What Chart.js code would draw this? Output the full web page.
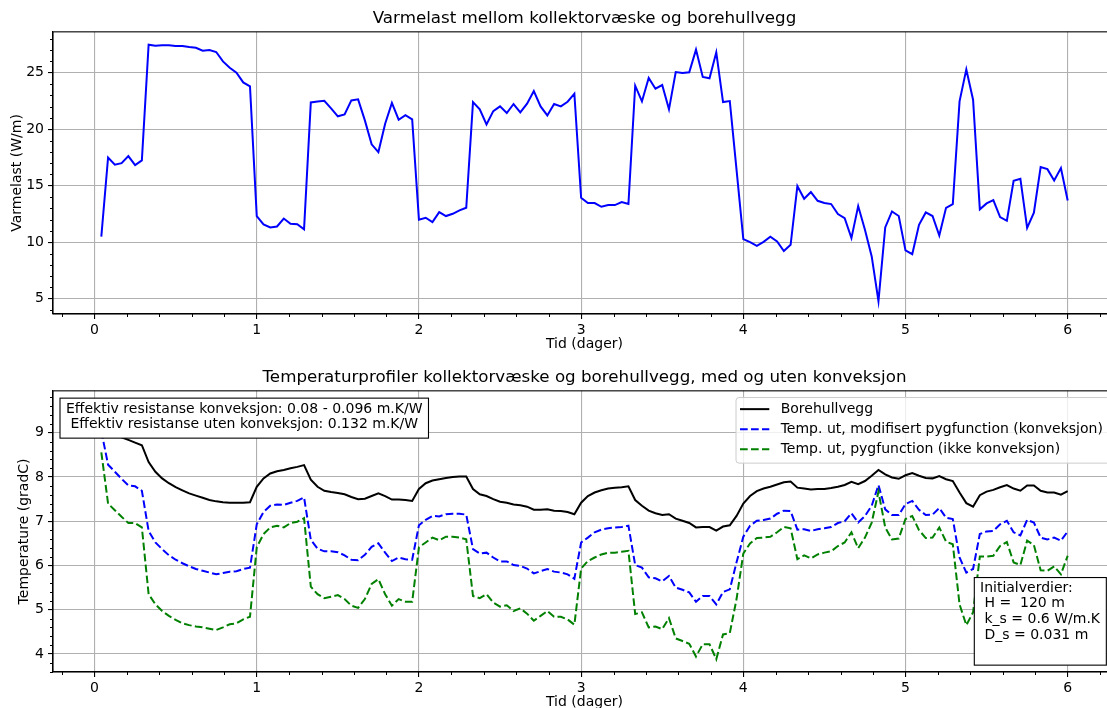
<!DOCTYPE html>
<html>
<head>
<meta charset="utf-8">
<script src="https://cdn.jsdelivr.net/npm/chart.js@4.4.1/dist/chart.umd.min.js"></script>
<style>
  html, body { margin: 0; padding: 0; background: #fff; overflow: hidden; }
  canvas { position: absolute; left: 0; }
  #lastChart { top: 0; }
  #tempChart { top: 353px; }
</style>
</head>
<body>
<canvas id="lastChart" width="1120" height="353" style="width:1120px;height:353px"></canvas>
<canvas id="tempChart" width="1120" height="358" style="width:1120px;height:358px"></canvas>
<script>
// Hourly values, hour 1 .. 144 (6 days)
const varmelast = [
  10.5, 17.5, 16.86, 17.0, 17.62, 16.83, 17.24, 27.48, 27.39, 27.42, 27.42, 27.36,
  27.36, 27.27, 27.21, 26.95, 27.0, 26.83, 26.0, 25.44, 25.0, 24.14, 23.79, 12.32,
  11.58, 11.31, 11.4, 12.1, 11.64, 11.6, 11.14, 22.37, 22.46, 22.52, 21.84, 21.14,
  21.31, 22.55, 22.64, 20.78, 18.66, 17.98, 20.49, 22.32, 20.84, 21.25, 20.87, 12.0,
  12.17, 11.78, 12.67, 12.32, 12.52, 12.82, 13.05, 22.4, 21.76, 20.43, 21.6, 22.02,
  21.43, 22.23, 21.49, 22.26, 23.38, 22.02, 21.22, 22.23, 22.02, 22.43, 23.14, 13.94,
  13.47, 13.47, 13.14, 13.29, 13.29, 13.55, 13.38, 23.85, 22.46, 24.53, 23.58, 23.91,
  21.76, 25.06, 24.97, 25.03, 27.04, 24.62, 24.5, 26.8, 22.4, 22.49, 16.4, 10.28,
  10.01, 9.69, 10.04, 10.49, 10.07, 9.22, 9.78, 14.97, 13.85, 14.44, 13.67, 13.47,
  13.38, 12.49, 12.14, 10.37, 13.2, 11.1, 8.75, 4.79, 11.31, 12.73, 12.32, 9.28,
  8.95, 11.55, 12.64, 12.32, 10.6, 13.05, 13.38, 22.46, 25.29, 22.61, 12.91, 13.44,
  13.73, 12.23, 11.9, 15.44, 15.62, 11.28, 12.61, 16.65, 16.47, 15.47, 16.56, 13.7
];

const borehullvegg = [
  9.66, 9.2, 9.02, 8.9, 8.84, 8.78, 8.72, 8.34, 8.12, 7.97, 7.86, 7.77,
  7.7, 7.63, 7.58, 7.53, 7.48, 7.45, 7.43, 7.42, 7.42, 7.42, 7.43, 7.78,
  7.97, 8.08, 8.13, 8.16, 8.2, 8.23, 8.27, 7.94, 7.78, 7.69, 7.66, 7.64,
  7.61, 7.55, 7.5, 7.51, 7.57, 7.63, 7.57, 7.49, 7.49, 7.48, 7.46, 7.73,
  7.86, 7.92, 7.95, 7.98, 8.0, 8.01, 8.01, 7.73, 7.61, 7.57, 7.5, 7.44,
  7.42, 7.38, 7.36, 7.33, 7.26, 7.26, 7.27, 7.24, 7.23, 7.21, 7.16, 7.42,
  7.57, 7.65, 7.7, 7.74, 7.76, 7.77, 7.79, 7.48, 7.35, 7.24, 7.18, 7.14,
  7.16, 7.06, 7.01, 6.96, 6.86, 6.87, 6.87, 6.79, 6.88, 6.91, 7.12, 7.4,
  7.57, 7.68, 7.74, 7.78, 7.83, 7.88, 7.9, 7.76, 7.74, 7.72, 7.73, 7.73,
  7.75, 7.78, 7.82, 7.89, 7.84, 7.91, 8.03, 8.16, 8.06, 7.99, 7.96, 8.04,
  8.09, 8.03, 7.98, 7.97, 8.02, 7.95, 7.91, 7.65, 7.41, 7.33, 7.59, 7.67,
  7.71, 7.77, 7.82, 7.74, 7.69, 7.81, 7.81, 7.69, 7.65, 7.65, 7.6, 7.68
];

const tempKonveksjon = [
  9.04, 8.28, 8.12, 7.96, 7.81, 7.79, 7.69, 6.78, 6.52, 6.37, 6.23, 6.13,
  6.05, 5.98, 5.92, 5.88, 5.84, 5.8, 5.83, 5.86, 5.87, 5.92, 5.95, 6.93,
  7.21, 7.35, 7.38, 7.37, 7.42, 7.46, 7.54, 6.58, 6.38, 6.32, 6.32, 6.3,
  6.23, 6.13, 6.12, 6.24, 6.42, 6.5, 6.29, 6.1, 6.18, 6.14, 6.13, 6.91,
  7.03, 7.12, 7.11, 7.16, 7.17, 7.17, 7.15, 6.37, 6.27, 6.29, 6.18, 6.09,
  6.09, 6.01, 5.99, 5.93, 5.82, 5.87, 5.92, 5.86, 5.84, 5.8, 5.7, 6.52,
  6.63, 6.75, 6.81, 6.84, 6.86, 6.87, 6.9, 6.01, 5.95, 5.73, 5.71, 5.64,
  5.76, 5.5, 5.45, 5.39, 5.18, 5.31, 5.31, 5.12, 5.4, 5.46, 6.07, 6.65,
  6.9, 7.01, 7.03, 7.06, 7.17, 7.24, 7.23, 6.81, 6.82, 6.78, 6.82, 6.84,
  6.87, 6.96, 7.0, 7.18, 6.97, 7.12, 7.35, 7.82, 7.27, 7.14, 7.14, 7.39,
  7.46, 7.26, 7.14, 7.15, 7.3, 7.08, 7.05, 6.18, 5.84, 5.92, 6.71, 6.77,
  6.78, 6.93, 7.01, 6.75, 6.68, 7.03, 6.97, 6.63, 6.59, 6.63, 6.56, 6.77
];

const tempUtenKonveksjon = [
  8.56, 7.4, 7.25, 7.1, 6.96, 6.96, 6.86, 5.35, 5.12, 4.97, 4.86, 4.77,
  4.69, 4.65, 4.62, 4.6, 4.57, 4.54, 4.6, 4.67, 4.69, 4.78, 4.84, 6.41,
  6.71, 6.86, 6.9, 6.86, 6.96, 6.99, 7.07, 5.52, 5.35, 5.26, 5.29, 5.33,
  5.24, 5.09, 5.04, 5.24, 5.58, 5.69, 5.35, 5.09, 5.24, 5.18, 5.18, 6.41,
  6.52, 6.63, 6.57, 6.65, 6.65, 6.63, 6.59, 5.31, 5.26, 5.35, 5.16, 5.07,
  5.1, 4.97, 5.03, 4.91, 4.75, 4.86, 4.97, 4.84, 4.84, 4.78, 4.66, 5.93,
  6.1, 6.18, 6.25, 6.29, 6.29, 6.31, 6.33, 4.9, 4.94, 4.6, 4.62, 4.56,
  4.81, 4.35, 4.29, 4.23, 3.94, 4.22, 4.22, 3.88, 4.44, 4.47, 5.24, 6.27,
  6.5, 6.62, 6.63, 6.65, 6.75, 6.87, 6.84, 6.14, 6.23, 6.16, 6.25, 6.29,
  6.32, 6.44, 6.52, 6.75, 6.39, 6.63, 6.97, 7.67, 6.86, 6.59, 6.61, 7.05,
  7.12, 6.8, 6.62, 6.63, 6.86, 6.54, 6.48, 5.12, 4.65, 4.94, 6.2, 6.2,
  6.22, 6.44, 6.53, 6.07, 6.01, 6.56, 6.46, 5.89, 5.88, 5.98, 5.8, 6.22
];

const dagTicks = [0, 1, 2, 3, 4, 5, 6];
const varmelastTicks = [5, 10, 15, 20, 25];
const tempTicks = [4, 5, 6, 7, 8, 9];

const resistanseTekst = [
  'Effektiv resistanse konveksjon: 0.08 - 0.096 m.K/W',
  ' Effektiv resistanse uten konveksjon: 0.132 m.K/W'
];
const initialTekst = [
  'Initialverdier:',
  ' H =  120 m',
  ' k_s = 0.6 W/m.K',
  ' D_s = 0.031 m'
];

const FONT = "'DejaVu Sans', sans-serif";
Chart.defaults.font.family = FONT;
Chart.defaults.font.size = 14;
Chart.defaults.color = '#000';

// time axis in days, one sample per hour
const tid = varmelast.map((_, i) => (i + 1) / 24);
const toPoints = arr => arr.map((v, i) => ({ x: tid[i], y: v }));

/* -------------------- SHARED PLUGINS -------------------- */

// minor tick marks plus the full axes frame
const frameAndMinorTicks = {
  id: 'frameAndMinorTicks',
  afterDraw(chart, args, opts) {
    const { ctx, chartArea: a, scales } = chart;
    ctx.save();
    ctx.strokeStyle = '#000';
    ctx.lineWidth = 1;
    ctx.beginPath();
    const xs = scales.x;
    for (let k = Math.ceil(xs.min / opts.xStep); k * opts.xStep <= xs.max; k++) {
      const v = k * opts.xStep;
      if (Math.abs(v - Math.round(v)) < 1e-6) continue;
      const px = Math.round(xs.getPixelForValue(v)) + 0.5;
      ctx.moveTo(px, a.bottom);
      ctx.lineTo(px, a.bottom + 3);
    }
    const ys = scales.y;
    for (let k = Math.ceil(ys.min / opts.yStep); k * opts.yStep <= ys.max; k++) {
      const v = k * opts.yStep;
      if (Math.abs(v / opts.yMajor - Math.round(v / opts.yMajor)) < 1e-6) continue;
      const py = Math.round(ys.getPixelForValue(v)) + 0.5;
      ctx.moveTo(a.left, py);
      ctx.lineTo(a.left - 3, py);
    }
    ctx.stroke();
    ctx.lineWidth = 1.1;
    ctx.strokeRect(a.left, a.top, a.width, a.height);
    ctx.restore();
  }
};

function baseScales(yMin, yMax, yTicks, yTitle, yTitlePad) {
  const grid = { color: '#b0b0b0', lineWidth: 1.1, tickColor: '#000', tickLength: 5, tickWidth: 1.1 };
  const border = { color: '#000', width: 1.1 };
  return {
    x: {
      type: 'linear',
      min: -0.25625,
      max: 6.29792,
      afterBuildTicks: s => { s.ticks = dagTicks.map(v => ({ value: v })); },
      afterFit: s => { s.height = 39; },
      ticks: { autoSkip: false, maxRotation: 0, padding: 3 },
      grid, border,
      title: { display: true, text: 'Tid (dager)', padding: { top: 0, bottom: 0 } }
    },
    y: {
      type: 'linear',
      min: yMin,
      max: yMax,
      afterBuildTicks: s => { s.ticks = yTicks.map(v => ({ value: v })); },
      afterFit: s => { s.width = 53; },
      ticks: { padding: 4 },
      grid, border,
      title: { display: true, text: yTitle, padding: { top: yTitlePad, bottom: 0 } }
    }
  };
}

function baseOptions(title, titleTop, scales, minor) {
  return {
    responsive: false,
    animation: false,
    devicePixelRatio: 1,
    layout: { padding: { left: 0, right: 4, top: 0, bottom: 0 } },
    scales,
    plugins: {
      legend: { display: false },
      tooltip: { enabled: false },
      title: {
        display: true,
        text: title,
        fullSize: false,
        color: '#000',
        font: { size: 16.7, weight: 'normal' },
        padding: { top: titleTop, bottom: 2.9 }
      },
      frameAndMinorTicks: minor
    }
  };
}

/* -------------------- HEAT LOAD -------------------- */

new Chart(document.getElementById('lastChart'), {
  type: 'line',
  data: {
    datasets: [{
      data: toPoints(varmelast),
      borderColor: '#0000ff',
      borderWidth: 2,
      pointRadius: 0,
      tension: 0
    }]
  },
  options: baseOptions(
    'Varmelast mellom kollektorvæske og borehullvegg', 8.9,
    baseScales(3.655, 28.614, varmelastTicks, 'Varmelast (W/m)', 8.6),
    { xStep: 0.2, yStep: 1, yMajor: 5 }
  ),
  plugins: [frameAndMinorTicks]
});

/* -------------------- TEMPERATURES -------------------- */

function boxedText(ctx, lines, x, y, w, h, textX, firstY, step) {
  ctx.fillStyle = '#fff';
  ctx.fillRect(x, y, w, h);
  ctx.strokeStyle = '#000';
  ctx.lineWidth = 1.1;
  ctx.strokeRect(x, y, w, h);
  ctx.fillStyle = '#000';
  lines.forEach((line, i) => ctx.fillText(line, textX, firstY + i * step));
}

const annotations = {
  id: 'annotations',
  afterDraw(chart) {
    const { ctx, chartArea: a } = chart;
    ctx.save();
    ctx.font = '14px ' + FONT;
    ctx.textBaseline = 'middle';
    ctx.textAlign = 'left';

    // resistance values, upper left
    const rw = Math.max(...resistanseTekst.map(t => ctx.measureText(t).width));
    boxedText(ctx, resistanseTekst, 60, a.top + 7.3, rw + 12, 40, 66, a.top + 18.3, 15.7);

    // initial values, lower right
    const iw = Math.max(...initialTekst.map(t => ctx.measureText(t).width));
    boxedText(ctx, initialTekst, 974.3, a.top + 186.7, iw + 12, 87.6, 980, a.top + 197.3, 15.7);

    // legend, upper right
    const sets = chart.data.datasets;
    const lw = Math.max(...sets.map(d => ctx.measureText(d.label).width));
    ctx.beginPath();
    ctx.roundRect(736, a.top + 6.7, 780.7 + lw + 7 - 736, 65.6, 3);
    ctx.fillStyle = 'rgba(255,255,255,0.8)';
    ctx.fill();
    ctx.strokeStyle = '#cccccc';
    ctx.lineWidth = 1;
    ctx.stroke();
    sets.forEach((d, i) => {
      const ry = a.top + 18.3 + i * 20;
      ctx.beginPath();
      ctx.setLineDash(d.borderDash || []);
      ctx.strokeStyle = d.borderColor;
      ctx.lineWidth = d.borderWidth;
      ctx.moveTo(740, ry);
      ctx.lineTo(769.3, ry);
      ctx.stroke();
      ctx.setLineDash([]);
      ctx.fillStyle = '#000';
      ctx.fillText(d.label, 780.7, ry);
    });
    ctx.restore();
  }
};

new Chart(document.getElementById('tempChart'), {
  type: 'line',
  data: {
    datasets: [
      {
        label: 'Borehullvegg',
        data: toPoints(borehullvegg),
        borderColor: '#000000',
        borderWidth: 2,
        pointRadius: 0,
        tension: 0,
        order: 3
      },
      {
        label: 'Temp. ut, modifisert pygfunction (konveksjon)',
        data: toPoints(tempKonveksjon),
        borderColor: '#0000ff',
        borderWidth: 2,
        borderDash: [7.7, 3.3],
        pointRadius: 0,
        tension: 0,
        order: 2
      },
      {
        label: 'Temp. ut, pygfunction (ikke konveksjon)',
        data: toPoints(tempUtenKonveksjon),
        borderColor: '#008000',
        borderWidth: 2,
        borderDash: [7.7, 3.3],
        pointRadius: 0,
        tension: 0,
        order: 1
      }
    ]
  },
  options: baseOptions(
    'Temperaturprofiler kollektorvæske og borehullvegg, med og uten konveksjon', 14.9,
    baseScales(3.59, 9.95, tempTicks, 'Temperature (gradC)', 15.6),
    { xStep: 0.2, yStep: 0.2, yMajor: 1 }
  ),
  plugins: [frameAndMinorTicks, annotations]
});
</script>
</body>
</html>
